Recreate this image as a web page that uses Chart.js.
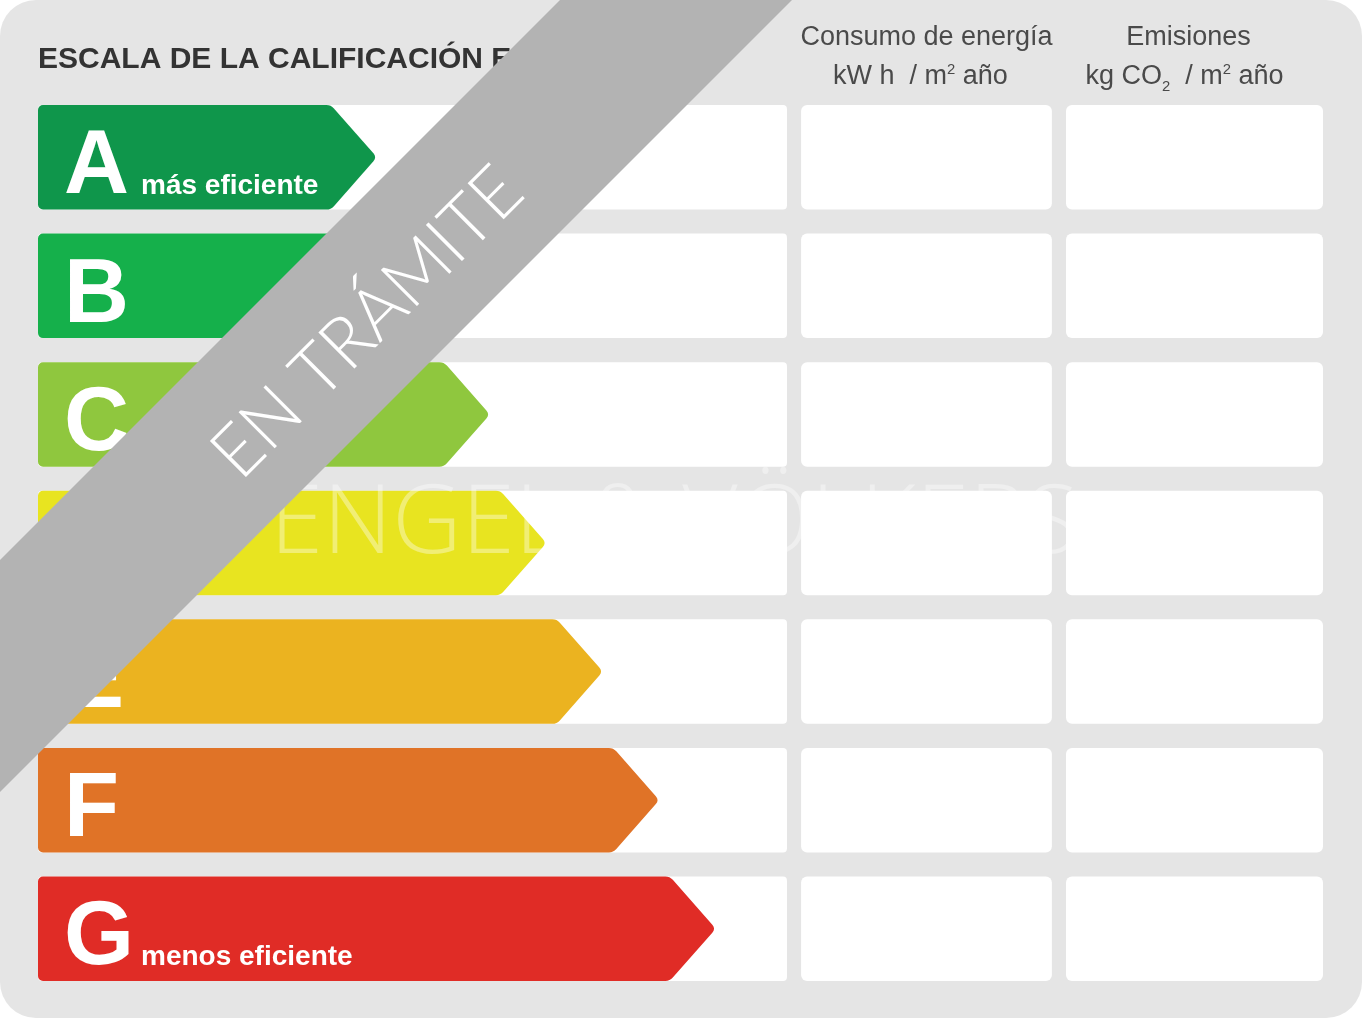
<!DOCTYPE html>
<html>
<head>
<meta charset="utf-8">
<title>Escala de la calificación energética</title>
<script src="https://cdn.jsdelivr.net/npm/chart.js@4.4.1/dist/chart.umd.min.js"></script>
<style>
    html, body { margin: 0; padding: 0; background: #fff; }
    canvas { display: block; }
</style>
</head>
<body>
<canvas id="label" width="1362" height="1018"></canvas>
<script>
// rating classes and arrow length (scale units)
const categories = ['A', 'B', 'C', 'D', 'E', 'F', 'G'];
const ratingLength = [6, 7, 8, 9, 10, 11, 12];
const notes = ['más eficiente', '', '', '', '', '', 'menos eficiente'];
const ratingColors = ['#0f964b', '#15b04b', '#8fc73e', '#e8e420', '#ebb320', '#e07327', '#e02c26'];

// table columns, as ranges on the same scale
const rowSpan = [0, 13.26];
const consumoSpan = [13.51, 17.95];
const emisionesSpan = [18.2, 22.75];
const xMax = 22.75;

const title = 'ESCALA DE LA CALIFICACIÓN ENERGÉTICA';
const stamp = 'EN TRÁMITE';
const watermark = 'ENGEL & VÖLKERS';

const FONT = '"Liberation Sans", Arial, sans-serif';

// draws a list of text runs centred on cx; runs may be raised or lowered
function drawRuns(ctx, runs, cx, y, size, color) {
    ctx.save();
    ctx.fillStyle = color;
    ctx.textBaseline = 'alphabetic';
    ctx.textAlign = 'left';
    let total = 0;
    runs.forEach(r => {
        ctx.font = `${r.small ? size * 0.55 : size}px ${FONT}`;
        r.w = ctx.measureText(r.t).width;
        total += r.w;
    });
    let x = cx - total / 2;
    runs.forEach(r => {
        ctx.font = `${r.small ? size * 0.55 : size}px ${FONT}`;
        ctx.fillText(r.t, x, y + (r.shift || 0));
        x += r.w;
    });
    ctx.restore();
}

function arrowPath(ctx, x0, x1, top, bottom, r) {
    const cy = (top + bottom) / 2;
    const d = (bottom - top) / 2 * 0.88;
    ctx.beginPath();
    ctx.moveTo(x0 + r, top);
    ctx.arcTo(x1 - d, top, x1, cy, r);
    ctx.arcTo(x1, cy, x1 - d, bottom, r * 0.6);
    ctx.arcTo(x1 - d, bottom, x0, bottom, r);
    ctx.arcTo(x0, bottom, x0, top, 5);
    ctx.arcTo(x0, top, x1 - d, top, 5);
    ctx.closePath();
}

const labelPlugin = {
    id: 'energyLabel',
    beforeDraw(chart) {
        const ctx = chart.ctx;
        ctx.save();
        ctx.fillStyle = '#ffffff';
        ctx.fillRect(0, 0, chart.width, chart.height);
        ctx.fillStyle = '#e5e5e5';
        ctx.beginPath();
        ctx.roundRect(0, 0, chart.width, chart.height, 36);
        ctx.fill();

        ctx.fillStyle = '#333333';
        ctx.font = `bold 30px ${FONT}`;
        ctx.textBaseline = 'alphabetic';
        ctx.fillText(title, 38, 68);
        ctx.restore();

        const xs = chart.scales.x;
        const c1 = xs.getPixelForValue((consumoSpan[0] + consumoSpan[1]) / 2);
        const c2 = xs.getPixelForValue((emisionesSpan[0] + emisionesSpan[1]) / 2);
        drawRuns(ctx, [{ t: 'Consumo de energía' }], c1, 45, 27, '#4a4a4a');
        drawRuns(ctx, [{ t: 'kW h  / m' }, { t: '2', small: true, shift: -10 }, { t: ' año' }], c1 - 6, 84, 27, '#4a4a4a');
        drawRuns(ctx, [{ t: 'Emisiones' }], c2 - 6, 45, 27, '#4a4a4a');
        drawRuns(ctx, [{ t: 'kg CO' }, { t: '2', small: true, shift: 7 }, { t: '  / m' }, { t: '2', small: true, shift: -10 }, { t: ' año' }], c2 - 10, 84, 27, '#4a4a4a');
    },
    beforeDatasetDraw(chart, args) {
        if (args.index !== 0) return;
        const ctx = chart.ctx;
        args.meta.data.forEach((el, i) => {
            const p = el.getProps(['x', 'y', 'base', 'height'], true);
            const top = p.y - p.height / 2;
            const bottom = p.y + p.height / 2;
            ctx.save();
            arrowPath(ctx, p.base, p.x, top, bottom, 10);
            ctx.fillStyle = ratingColors[i];
            ctx.fill();

            ctx.fillStyle = '#ffffff';
            ctx.textBaseline = 'alphabetic';
            ctx.font = `bold 90px ${FONT}`;
            ctx.fillText(categories[i], p.base + 26, top + 88);
            if (notes[i]) {
                ctx.font = `bold 28px ${FONT}`;
                ctx.fillText(notes[i], p.base + 103, top + 89);
            }
            ctx.restore();
        });
        return false;
    },
    afterDraw(chart) {
        const ctx = chart.ctx;
        ctx.save();
        // faint watermark
        ctx.fillStyle = 'rgba(255,255,255,0.38)';
        ctx.font = `300 96px "Open Sans", ${FONT}`;
        ctx.textBaseline = 'alphabetic';
        ctx.fillText(watermark, 270, 553, 810);

        // diagonal stamp band
        ctx.fillStyle = '#b3b3b3';
        ctx.beginPath();
        ctx.moveTo(560, 0);
        ctx.lineTo(792, 0);
        ctx.lineTo(0, 792);
        ctx.lineTo(0, 560);
        ctx.closePath();
        ctx.fill();

        ctx.translate(384, 339);
        ctx.rotate(-Math.PI / 4);
        ctx.fillStyle = '#ffffff';
        ctx.font = `300 72px Lato, "Open Sans", sans-serif`;
        ctx.textAlign = 'center';
        ctx.fillText(stamp, 0, 0, 405);
        ctx.restore();
    }
};

new Chart(document.getElementById('label'), {
    type: 'bar',
    data: {
        labels: categories,
        datasets: [
            {
                label: 'Calificación',
                data: ratingLength,
                backgroundColor: ratingColors
            },
            {
                label: 'fila',
                data: categories.map(() => rowSpan),
                backgroundColor: '#ffffff',
                borderRadius: 4
            },
            {
                label: 'Consumo de energía',
                data: categories.map(() => consumoSpan),
                backgroundColor: '#ffffff',
                borderRadius: 6
            },
            {
                label: 'Emisiones',
                data: categories.map(() => emisionesSpan),
                backgroundColor: '#ffffff',
                borderRadius: 6
            }
        ]
    },
    options: {
        indexAxis: 'y',
        responsive: false,
        animation: false,
        devicePixelRatio: 1,
        layout: { padding: { left: 38, right: 39, top: 93, bottom: 25 } },
        datasets: {
            bar: {
                grouped: false,
                barPercentage: 1,
                categoryPercentage: 0.813,
                borderSkipped: false
            }
        },
        scales: {
            x: { type: 'linear', min: 0, max: xMax, display: false },
            y: { type: 'category', display: false }
        },
        plugins: {
            legend: { display: false },
            tooltip: { enabled: false }
        }
    },
    plugins: [labelPlugin]
});
</script>
</body>
</html>
